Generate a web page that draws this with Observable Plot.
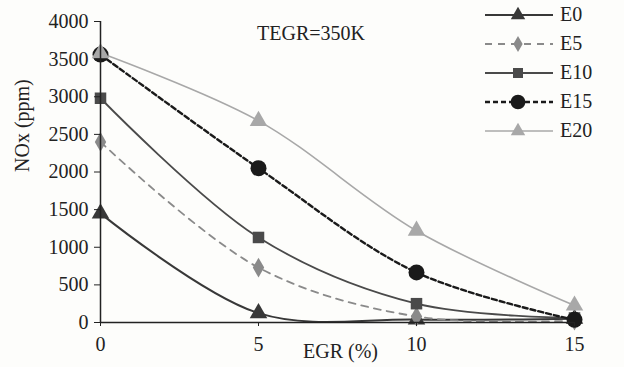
<!DOCTYPE html>
<html><head><meta charset="utf-8">
<script src="https://cdn.jsdelivr.net/npm/d3@7"></script>
<script src="https://cdn.jsdelivr.net/npm/@observablehq/plot@0.6"></script>
<style>
body{margin:0;background:#fdfdfb;}
#wrap{position:relative;width:624px;height:367px;font-family:'Liberation Serif',serif;}
#wrap svg text{font-family:'Liberation Serif',serif;}
#legend{position:absolute;left:484px;top:0px;}
.item{display:flex;align-items:center;height:29px;font-size:20px;color:#222;}
.item svg{margin-right:6px;}
#note{position:absolute;left:257px;top:22px;font-size:20px;color:#222;}
</style></head><body>
<div id="wrap"><div id="chart"></div><div id="legend"></div><div id="note">TEGR=350K</div></div>
<script>
const egr = [0, 5, 10, 15];
const seriesNames = ["E0", "E5", "E10", "E15", "E20"];
const E0 = [1450, 125, 40, 50];
const E5 = [2400, 730, 80, 25];
const E10 = [2980, 1130, 250, 60];
const E15 = [3560, 2050, 665, 35];
const E20 = [3580, 2680, 1220, 225];
const yTicks = [0, 500, 1000, 1500, 2000, 2500, 3000, 3500, 4000];
const xTicks = [0, 5, 10, 15];

const values = {E0, E5, E10, E15, E20};
const styles = {
  E0: {stroke: "#383838", dash: null, symbol: "triangle", w: 2, r: 6.5},
  E5: {stroke: "#8a8a8a", dash: "7,6", symbol: "diamond", w: 1.8, r: 6},
  E10: {stroke: "#4a4a4a", dash: null, symbol: "square", w: 1.8, r: 6.5},
  E15: {stroke: "#1a1a1a", dash: "5,3", symbol: "circle", w: 2.4, r: 8},
  E20: {stroke: "#a8a8a8", dash: null, symbol: "triangle", w: 1.6, r: 6.5}
};
const data = seriesNames.flatMap(s => egr.map((x, i) => ({s, x, y: values[s][i]})));

const marks = [];
for (const s of seriesNames) {
  const st = styles[s];
  const d = data.filter(r => r.s === s);
  marks.push(Plot.line(d, {x: "x", y: "y", curve: "catmull-rom", stroke: st.stroke, strokeWidth: st.w, strokeDasharray: st.dash}));
}
for (const s of seriesNames) {
  const st = styles[s];
  const d = data.filter(r => r.s === s);
  marks.push(Plot.dot(d, {x: "x", y: "y", symbol: () => st.symbol, fill: st.stroke, r: st.r}));
}
marks.push(Plot.ruleY([0], {stroke: "#222", strokeWidth: 1.5}));
marks.push(Plot.axisY({ticks: yTicks, tickFormat: "d", tickSize: 6, tickPadding: 6, fontSize: 20, stroke: "#222", label: null}));
marks.push(Plot.ruleX([0], {stroke: "#222", strokeWidth: 1.5}));
marks.push(Plot.axisX({ticks: xTicks, tickFormat: "d", tickSize: 4, tickPadding: 10, fontSize: 20, label: null}));
marks.push(Plot.text(["EGR (%)"], {frameAnchor: "bottom", dy: 35, dx: 3, fontSize: 20, fill: "#222"}));
marks.push(Plot.text(["NOx (ppm)"], {frameAnchor: "left", dx: -78, rotate: -90, fontSize: 20, fill: "#222"}));

const chart = Plot.plot({
  width: 624, height: 367,
  marginLeft: 100, marginRight: 50, marginTop: 21, marginBottom: 45,
  style: {fontFamily: "'Liberation Serif', serif", background: "transparent", color: "#222", overflow: "visible"},
  x: {domain: [0, 15]},
  y: {domain: [0, 4000]},
  marks
});
document.getElementById("chart").append(chart);

const legend = document.getElementById("legend");
const symPaths = {
  triangle: d3.symbol(d3.symbolTriangle, 90)(),
  diamond: d3.symbol(d3.symbolDiamond, 75)(),
  square: d3.symbol(d3.symbolSquare, 100)(),
  circle: d3.symbol(d3.symbolCircle, 170)()
};
for (const s of seriesNames) {
  const st = styles[s];
  const div = document.createElement("div");
  div.className = "item";
  div.innerHTML = `<svg width="70" height="20"><line x1="1" x2="69" y1="10" y2="10" stroke="${st.stroke}" stroke-width="${st.w}" ${st.dash ? `stroke-dasharray="${st.dash}"` : ""}/><path transform="translate(34,10)" d="${symPaths[st.symbol]}" fill="${st.stroke}"/></svg><span>${s}</span>`;
  legend.append(div);
}
</script>
</body></html>
